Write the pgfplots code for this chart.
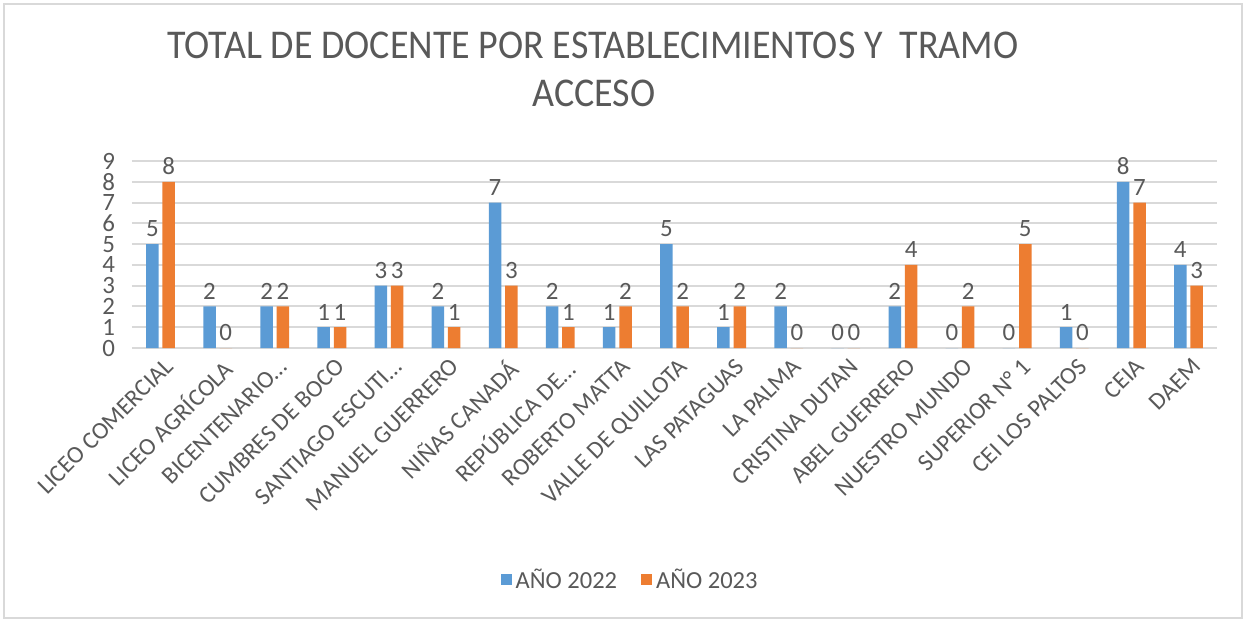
\documentclass[border=0pt]{standalone}
\usepackage{fontspec}
\setmainfont{Carlito}
\usepackage{pgfplots}
\pgfplotsset{compat=1.18}
\definecolor{cblue}{HTML}{5B9BD5}
\definecolor{corange}{HTML}{ED7D31}
\definecolor{ctext}{HTML}{595959}
\definecolor{cgrid}{HTML}{D9D9D9}
\begin{document}
\begin{tikzpicture}
\useasboundingbox (-66bp,-137bp) rectangle (557bp,174bp);
\draw[color=cgrid, line width=1.2bp] (-64bp,-135bp) rectangle (555bp,172bp);
\begin{axis}[
  at={(0,0)}, anchor=south west,
  scale only axis, width=542.5bp, height=93.5bp,
  xmin=-0.5, xmax=18.5, ymin=0, ymax=9,
  ybar=1.9bp, bar width=6.25bp,
  axis line style={draw=none},
  tick style={draw=none},
  ymajorgrids, grid style={cgrid, line width=1bp},
  ytick={0,...,9},
  xtick={0,...,18},
  xticklabels={LICEO COMERCIAL, LICEO AGRÍCOLA, BICENTENARIO…, CUMBRES DE BOCO, SANTIAGO ESCUTI…, MANUEL GUERRERO, NIÑAS CANADÁ, REPÚBLICA DE…, ROBERTO MATTA, VALLE DE QUILLOTA, LAS PATAGUAS, LA PALMA, CRISTINA DUTAN, ABEL GUERRERO, NUESTRO MUNDO, SUPERIOR N° 1, CEI LOS PALTOS, CEIA, DAEM},
  xticklabel style={rotate=45, anchor=north east, font=\fontsize{12.2}{13}\selectfont, text=ctext, inner sep=1bp, xshift=2bp},
  yticklabel style={font=\fontsize{12.5}{13}\selectfont, text=ctext, xshift=-5bp},
  /pgf/number format/assume math mode=true,
  nodes near coords,
  every node near coord/.append style={font=\fontsize{12.5}{13}\selectfont, text=ctext},
  legend style={at={(0.46,-1.24)}, anchor=center, draw=none, legend columns=2, font=\fontsize{12.3}{13}\selectfont, text=ctext, /tikz/every even column/.append style={column sep=10bp}, /tikz/every odd column/.append style={inner sep=0pt}},
  legend image code/.code={\path[#1] (0bp,-2.8bp) rectangle (5.5bp,2.8bp);},
]
\addplot[fill=cblue, draw=none] coordinates {(0,5) (1,2) (2,2) (3,1) (4,3) (5,2) (6,7) (7,2) (8,1) (9,5) (10,1) (11,2) (12,0) (13,2) (14,0) (15,0) (16,1) (17,8) (18,4)};
\addplot[fill=corange, draw=none] coordinates {(0,8) (1,0) (2,2) (3,1) (4,3) (5,1) (6,3) (7,1) (8,2) (9,2) (10,2) (11,0) (12,0) (13,4) (14,2) (15,5) (16,0) (17,7) (18,3)};
\legend{AÑO 2022, AÑO 2023}
\end{axis}
\node[font=\fontsize{20.5}{24}\selectfont, text=ctext] at (230.5bp,151.5bp) {\scalebox{0.93}[1]{TOTAL DE DOCENTE POR ESTABLECIMIENTOS Y\ \ TRAMO}};
\node[font=\fontsize{20.5}{24}\selectfont, text=ctext] at (231bp,127.5bp) {\scalebox{0.93}[1]{ACCESO}};
\end{tikzpicture}
\end{document}
